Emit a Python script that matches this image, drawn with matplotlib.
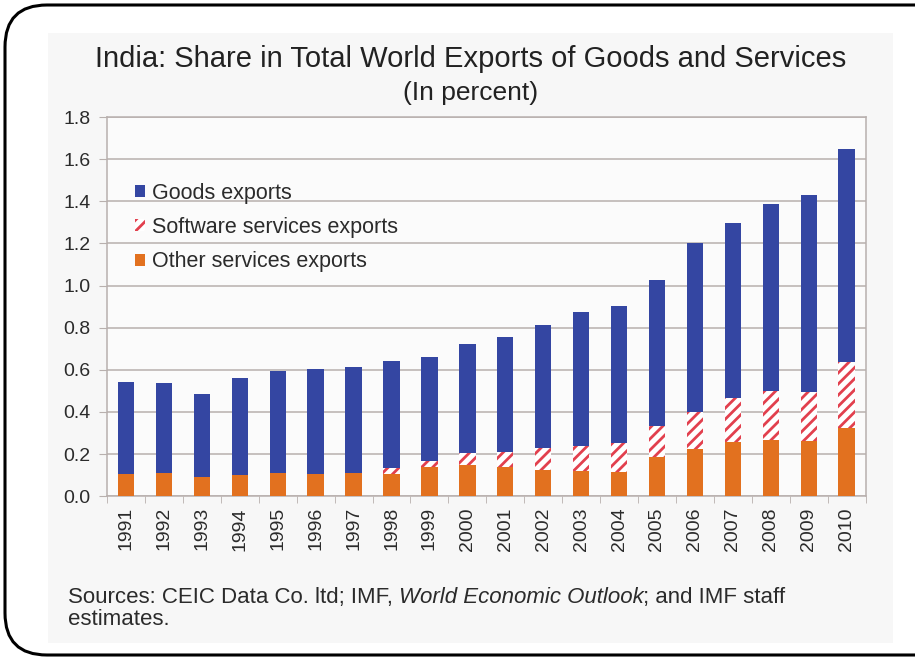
import matplotlib.pyplot as plt
import numpy as np
from matplotlib.patches import FancyBboxPatch, Rectangle

plt.rcParams["font.family"] = ["Liberation Sans", "DejaVu Sans"]
plt.rcParams["hatch.linewidth"] = 2.0

years = [str(y) for y in range(1991, 2011)]

# shares of total world exports, in percent (stacked components)
other_services = [0.105, 0.111, 0.092, 0.098, 0.110, 0.105, 0.108, 0.105, 0.137, 0.148,
                  0.137, 0.124, 0.119, 0.116, 0.184, 0.224, 0.256, 0.267, 0.263, 0.322]
software_services = [0.0, 0.0, 0.0, 0.0, 0.0, 0.0, 0.0, 0.027, 0.031, 0.055,
                     0.071, 0.103, 0.121, 0.138, 0.151, 0.176, 0.209, 0.230, 0.231, 0.315]
goods = [0.435, 0.424, 0.394, 0.461, 0.485, 0.498, 0.505, 0.508, 0.495, 0.519,
         0.548, 0.587, 0.635, 0.651, 0.690, 0.800, 0.833, 0.889, 0.938, 1.013]

BLUE = "#3446a2"
ORANGE = "#e2711f"
RED = "#e2404e"
GRID = "#b8b0ae"
TXT = "#2b2b2b"

fig = plt.figure(figsize=(9.15, 6.58), dpi=100)
fig.patch.set_facecolor("white")

# rounded outer frame (drawn in inches, runs off the right edge)
frame = FancyBboxPatch((0.05, 0.03), 9.6, 6.50,
                       boxstyle="round,pad=0,rounding_size=0.42",
                       transform=fig.dpi_scale_trans, facecolor="white",
                       edgecolor="black", linewidth=2.2, zorder=-2)
fig.patches.append(frame)
panel = Rectangle((0.48, 0.15), 8.45, 6.10, transform=fig.dpi_scale_trans,
                  facecolor="#f7f7f7", edgecolor="none", zorder=-1)
fig.patches.append(panel)

ax = fig.add_axes([0.117, 0.246, 0.829, 0.576])
ax.set_facecolor("#fbfbfb")

x = np.arange(len(years))
width = 0.43
other = np.array(other_services)
soft = np.array(software_services)
good = np.array(goods)

ax.bar(x, other, width, color=ORANGE, linewidth=0, zorder=3,
       label="Other services exports")
ax.bar(x, soft, width, bottom=other, facecolor="white", edgecolor=RED,
       hatch="///", linewidth=0, zorder=3, label="Software services exports")
ax.bar(x, good, width, bottom=other + soft, color=BLUE, linewidth=0, zorder=3,
       label="Goods exports")

ax.set_ylim(0, 1.8)
ax.set_yticks(np.arange(0, 1.81, 0.2))
ax.set_yticklabels([f"{v:.1f}" for v in np.arange(0, 1.81, 0.2)])
ax.set_xlim(-0.5, len(years) - 0.5)
ax.set_xticks(x)
ax.set_xticklabels(years, rotation=90)
ax.set_xticks(np.arange(-0.5, len(years), 1.0), minor=True)
ax.tick_params(axis="x", which="major", length=0, pad=8, labelsize=14,
               labelcolor=TXT)
ax.tick_params(axis="x", which="minor", length=5, color=GRID, direction="out")
ax.tick_params(axis="y", length=6, color=GRID, labelsize=14,
               labelcolor=TXT, pad=6)

ax.grid(axis="y", color=GRID, linewidth=1.1, zorder=1)
ax.set_axisbelow(True)
for side in ["left", "right", "top", "bottom"]:
    ax.spines[side].set_color(GRID)
    ax.spines[side].set_linewidth(1.1)

handles, labels = ax.get_legend_handles_labels()
leg = ax.legend(handles[::-1], labels[::-1], loc="upper left",
                bbox_to_anchor=(0.025, 0.85), frameon=False, fontsize=15.5,
                handlelength=0.5, handleheight=0.5, handletextpad=0.3,
                labelspacing=0.62, borderaxespad=0)
for t in leg.get_texts():
    t.set_color(TXT)

fig.text(0.514, 0.911, "India: Share in Total World Exports of Goods and Services",
         ha="center", va="center", fontsize=21, color="#222222")
fig.text(0.514, 0.858, "(In percent)", ha="center", va="center",
         fontsize=19, color="#222222")

src1 = fig.text(0.074, 0.092, "Sources: CEIC Data Co. ltd; IMF, ", ha="left",
                va="center", fontsize=16, color=TXT)
fig.text(0.074, 0.058, "estimates.", ha="left", va="center",
         fontsize=16, color=TXT)

# the italic publication name sits inline, so place the pieces one after another
fig.canvas.draw()
r = fig.canvas.get_renderer()
bb = src1.get_window_extent(r)
t2 = fig.text(bb.x1 / fig.bbox.width, 0.092, "World Economic Outlook", ha="left",
              va="center", fontsize=16, style="italic", color=TXT)
bb2 = t2.get_window_extent(r)
fig.text(bb2.x1 / fig.bbox.width, 0.092, "; and IMF staff", ha="left",
         va="center", fontsize=16, color=TXT)

fig.savefig("out.png", dpi=100)
